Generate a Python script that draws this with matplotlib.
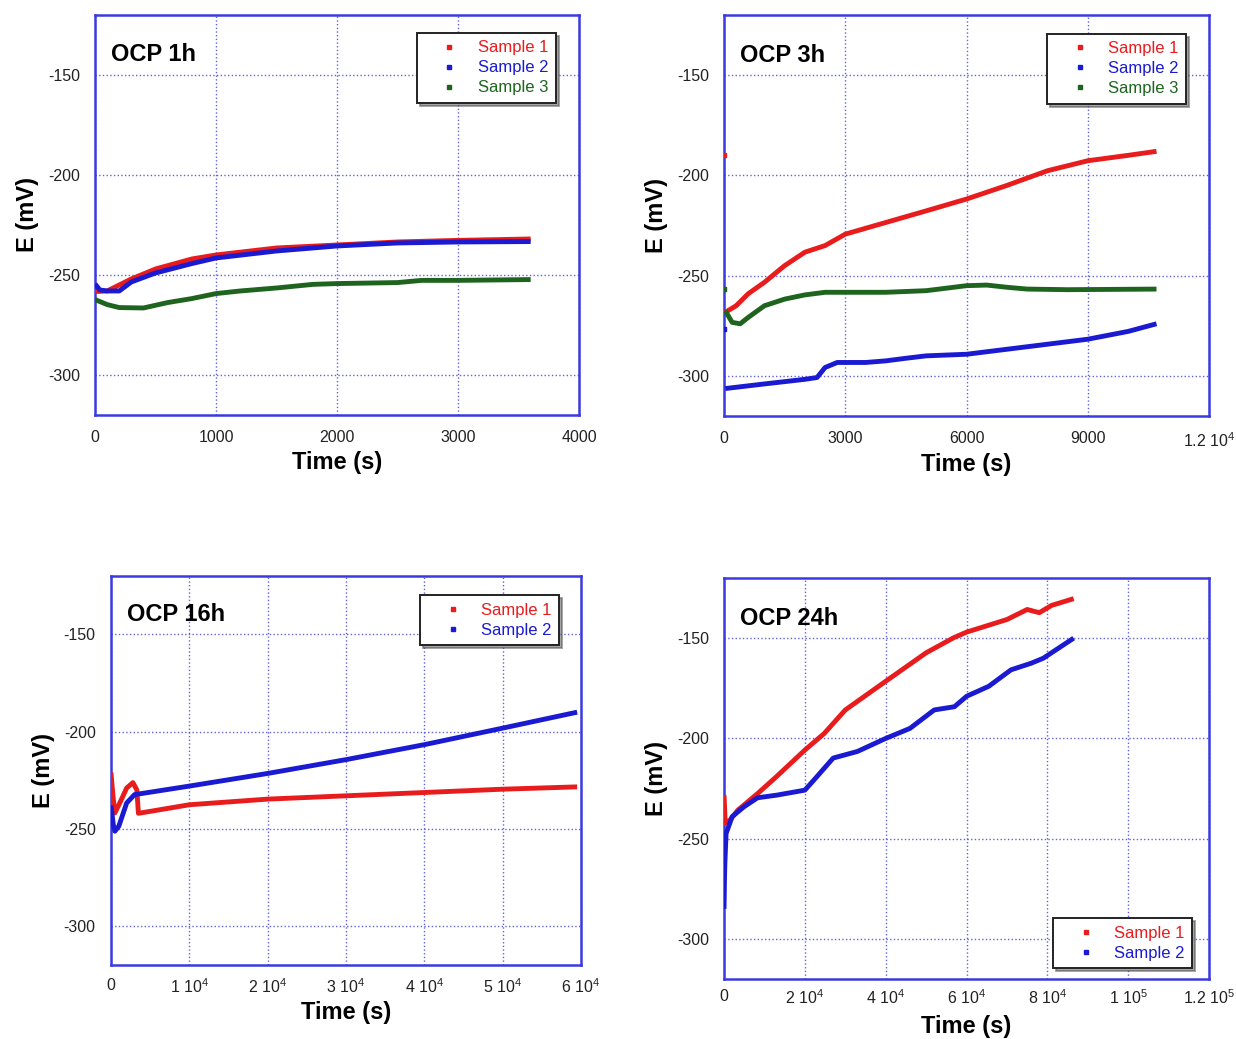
import matplotlib
matplotlib.use('Agg')
import matplotlib.pyplot as plt

plt.rcParams['font.family'] = ['Liberation Sans', 'DejaVu Sans']
plt.rcParams['mathtext.fontset'] = 'custom'
plt.rcParams['mathtext.rm'] = 'Liberation Sans'

RED = '#e81c1c'
BLUE = '#1a1ad2'
GREEN = '#1e641e'
FRAME = '#3a3ae0'

# ---- OCP 1h ----
t1_s1 = [0, 100, 300, 500, 800, 1000, 1500, 2000, 2500, 3000, 3600]
e1_s1 = [-258.3, -258, -252, -247, -242, -240, -236.5, -235, -233.5, -232.7, -232]
t1_s2 = [0, 40, 100, 200, 300, 500, 800, 1000, 1500, 2000, 2500, 3000, 3600]
e1_s2 = [-254.5, -257.5, -258, -258, -253.5, -249, -244.3, -241.5, -238, -235.5, -234, -233.5, -233.3]
t1_s3 = [0, 100, 200, 400, 600, 800, 1000, 1200, 1500, 1800, 2000, 2500, 2700, 3000, 3600]
e1_s3 = [-262.3, -264.8, -266.3, -266.5, -263.8, -261.8, -259.3, -258, -256.5, -254.7, -254.3, -253.8, -252.7, -252.7, -252.3]

# ---- OCP 3h ----
t3_s1 = [30, 300, 600, 1000, 1500, 2000, 2500, 3000, 4000, 5000, 6000, 7000, 8000, 9000, 10000, 10700]
e3_s1 = [-268.3, -265, -259, -253.3, -245, -238.3, -235, -229.3, -223.5, -217.7, -211.8, -205, -197.7, -192.7, -190, -188]
t3_s2 = [30, 1000, 2000, 2300, 2500, 2800, 3500, 4000, 4500, 5000, 6000, 7000, 8000, 9000, 10000, 10700]
e3_s2 = [-306.3, -304, -301.7, -300.8, -295.8, -293.3, -293.3, -292.5, -291.2, -290, -289.2, -286.7, -284.2, -281.7, -277.8, -274]
t3_s3 = [30, 200, 400, 600, 1000, 1500, 2000, 2500, 3000, 4000, 5000, 6000, 6500, 7000, 7500, 8500, 10700]
e3_s3 = [-267.5, -273.3, -274, -270.8, -265, -261.7, -259.6, -258.3, -258.3, -258.3, -257.5, -255, -254.7, -255.8, -256.7, -257, -256.7]
t3_out = [0, 0, 0]
e3_out = [-189.8, -276.7, -256.7]
c3_out = [RED, BLUE, GREEN]

# ---- OCP 16h ----
t16_s1 = [0, 100, 300, 500, 1200, 2000, 2800, 3300, 3500, 5000, 10000, 20000, 30000, 40000, 50000, 59500]
e16_s1 = [-221, -226, -235, -241.8, -236, -229, -226.2, -230, -242, -241, -237.6, -234.7, -233, -231.3, -229.6, -228.4]
t16_s2 = [0, 300, 500, 1000, 2000, 3000, 10000, 20000, 30000, 40000, 50000, 59500]
e16_s2 = [-238, -248, -251.2, -248.6, -236.7, -232.4, -228, -221.5, -214.4, -206.7, -198.2, -190]

# ---- OCP 24h ----
t24_s1 = [0, 300, 1500, 3400, 8300, 13000, 20000, 24800, 30000, 40000, 50000, 56800, 60000, 70000, 75000, 78000, 81000, 86500]
e24_s1 = [-228.3, -242.3, -240.7, -235.8, -227.5, -219, -205.8, -197.5, -185.8, -171.5, -157.3, -149.8, -147, -140.7, -135.7, -137.3, -133.7, -130.3]
t24_s2 = [0, 100, 200, 500, 2000, 5000, 8300, 13000, 20000, 23000, 27000, 33000, 40000, 46000, 52000, 57000, 60000, 65500, 71000, 76000, 79000, 86500]
e24_s2 = [-285, -270.8, -262.5, -247.5, -239, -234, -229.6, -228.3, -225.8, -219, -209.8, -206.5, -200, -195, -185.8, -184.2, -179, -174, -165.8, -162.5, -160, -150]

yticks = [-150, -200, -250, -300]


def style_axes(ax, xmax, xticks, xlabels, title, xlab_y, xpad=11):
    ax.set_xlim(0, xmax)
    ax.set_ylim(-320, -120)
    ax.set_xticks(xticks)
    ax.set_xticklabels(xlabels)
    ax.set_yticks(yticks)
    ax.set_yticklabels([str(v) for v in yticks])
    ax.tick_params(length=0, labelsize=11.5, pad=11, colors='#222222')
    ax.tick_params(axis='x', pad=xpad)
    for sp in ax.spines.values():
        sp.set_color(FRAME)
        sp.set_linewidth(1.8)
    ax.grid(True, color=FRAME, linestyle=':', linewidth=1.0, alpha=0.8)
    ax.set_xlabel('Time (s)', fontsize=17, fontweight='bold')
    ax.xaxis.set_label_coords(0.5, xlab_y)
    ax.xaxis.label.set_va('center')
    ax.set_ylabel('E (mV)', fontsize=17, fontweight='bold', labelpad=6)
    ax.text(0.033, 0.90, title, transform=ax.transAxes, fontsize=17,
            fontweight='bold', va='center', ha='left')


def series(ax, t, e, c, label):
    ax.plot(t, e, color=c, lw=3.5, solid_capstyle='butt', zorder=3)
    ax.plot([], [], 's', ms=3, color=c, label=label)


def legend(ax, loc, anchor):
    leg = ax.legend(loc=loc, bbox_to_anchor=anchor, fontsize=12, frameon=True,
                    fancybox=False, shadow=True, handlelength=3.0,
                    handletextpad=0.2, borderpad=0.45, labelspacing=0.3,
                    borderaxespad=0, labelcolor='linecolor')
    leg.get_frame().set_edgecolor('#222222')
    leg.get_frame().set_linewidth(1.4)


fig = plt.figure(figsize=(12.36, 10.39), dpi=100)

ax1 = fig.add_axes([0.0769, 0.6006, 0.3916, 0.385])
series(ax1, t1_s1, e1_s1, RED, 'Sample 1')
series(ax1, t1_s2, e1_s2, BLUE, 'Sample 2')
series(ax1, t1_s3, e1_s3, GREEN, 'Sample 3')
style_axes(ax1, 4000, [0, 1000, 2000, 3000, 4000], ['0', '1000', '2000', '3000', '4000'],
           'OCP 1h', -0.12)
legend(ax1, 'upper right', (0.952, 0.955))

ax2 = fig.add_axes([0.5858, 0.5996, 0.3924, 0.386])
series(ax2, t3_s1, e3_s1, RED, 'Sample 1')
series(ax2, t3_s2, e3_s2, BLUE, 'Sample 2')
series(ax2, t3_s3, e3_s3, GREEN, 'Sample 3')
ax2.scatter(t3_out, e3_out, c=c3_out, s=8, marker='s', zorder=4)
style_axes(ax2, 12000, [0, 3000, 6000, 9000, 12000],
           ['0', '3000', '6000', '9000', r'1.2 10$^{4}$'], 'OCP 3h', -0.122)
legend(ax2, 'upper right', (0.953, 0.953))

ax3 = fig.add_axes([0.0898, 0.0712, 0.3803, 0.3744])
series(ax3, t16_s1, e16_s1, RED, 'Sample 1')
series(ax3, t16_s2, e16_s2, BLUE, 'Sample 2')
style_axes(ax3, 60000, [0, 10000, 20000, 30000, 40000, 50000, 60000],
           ['0'] + [r'%d 10$^{4}$' % k for k in range(1, 7)], 'OCP 16h', -0.121, xpad=9)
legend(ax3, 'upper right', (0.953, 0.951))

ax4 = fig.add_axes([0.5858, 0.0577, 0.3924, 0.386])
series(ax4, t24_s1, e24_s1, RED, 'Sample 1')
series(ax4, t24_s2, e24_s2, BLUE, 'Sample 2')
style_axes(ax4, 120000, [0, 20000, 40000, 60000, 80000, 100000, 120000],
           ['0', r'2 10$^{4}$', r'4 10$^{4}$', r'6 10$^{4}$', r'8 10$^{4}$',
            r'1 10$^{5}$', r'1.2 10$^{5}$'], 'OCP 24h', -0.119, xpad=7)
legend(ax4, 'lower right', (0.965, 0.027))

fig.savefig('out.png', dpi=100)
